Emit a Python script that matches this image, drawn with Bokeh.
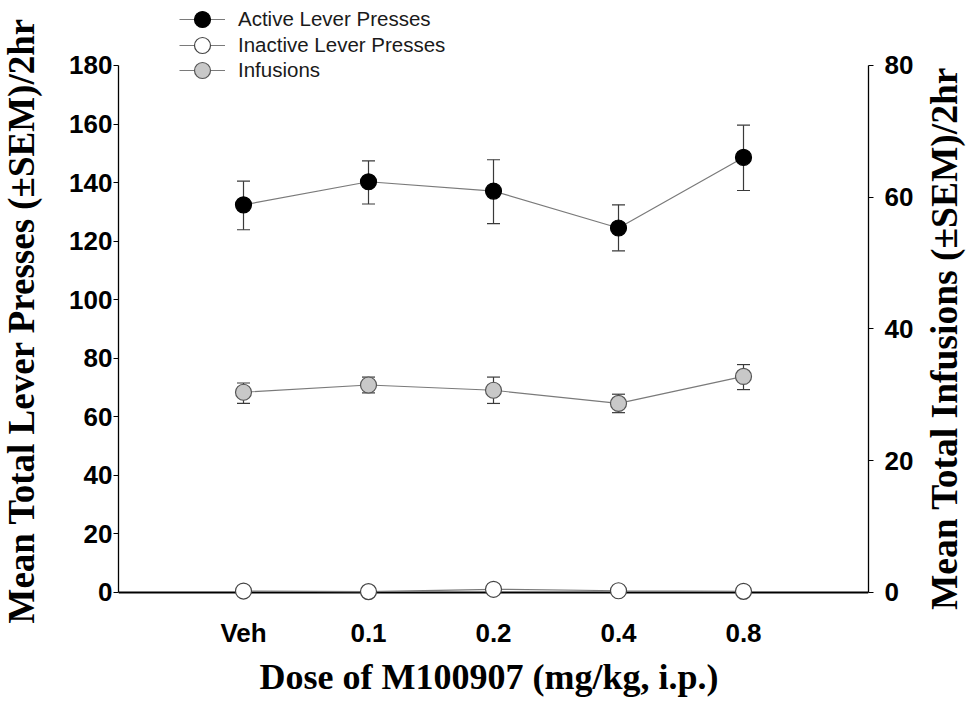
from bokeh.plotting import figure
from bokeh.layouts import row
from bokeh.models import (Range1d, FactorRange, LinearAxis, FixedTicker, Whisker, TeeHead,
                          ColumnDataSource, Legend, LegendItem, Span, Label)
from bokeh.embed import file_html
from bokeh.resources import INLINE

doses = ["Veh", "0.1", "0.2", "0.4", "0.8"]

active_mean = [132.4, 140.3, 137.1, 124.5, 148.6]
active_upper = [140.5, 147.4, 147.8, 132.4, 159.6]
active_lower = [123.9, 132.7, 126.0, 116.7, 137.3]

inactive_mean = [0.5, 0.3, 1.1, 0.6, 0.4]
inactive_upper = [0.8, 0.5, 1.5, 0.9, 0.6]
inactive_lower = [0.2, 0.1, 0.7, 0.3, 0.2]

infusion_mean = [30.4, 31.5, 30.7, 28.7, 32.8]
infusion_upper = [31.8, 32.7, 32.7, 30.1, 34.6]
infusion_lower = [28.7, 30.3, 28.7, 27.3, 30.8]

left_ticks = [0, 20, 40, 60, 80, 100, 120, 140, 160, 180]
right_ticks = [0, 20, 40, 60, 80]

x_title = "Dose of M100907  (mg/kg, i.p.)"
left_title = "Mean Total Lever Presses (\u00b1SEM)/2hr"
right_title = "Mean Total Infusions (\u00b1SEM)/2hr"

LEFT_MAX = 180
RIGHT_MAX = 80
RATIO = RIGHT_MAX / LEFT_MAX
Y_START = -12.98    # room below zero (markers on the axis, side titles)
Y_END = 202.2       # room above the axis top for the legend

H = 703
FRAME_H = 630
SERIF = "Liberation Serif"
SANS = "Liberation Sans"

def side_fig(w):
    f = figure(width=w, height=H, output_backend="svg", toolbar_location=None,
               x_range=Range1d(0, w), y_range=Range1d(0, FRAME_H),
               x_axis_type=None, y_axis_type=None,
               min_border_left=0, min_border_right=0, min_border_top=0,
               min_border_bottom=H - FRAME_H)
    f.outline_line_color = None
    f.xgrid.visible = False
    f.ygrid.visible = False
    return f

# left title panel
lf = side_fig(50)
lf.add_layout(Label(x=21, y=FRAME_H - 320, text=left_title, angle=90, angle_units="deg",
                    text_align="center", text_baseline="alphabetic",
                    text_font=SERIF, text_font_style="bold",
                    text_font_size="37px", text_color="black"))

# right title panel
rf = side_fig(48)
rf.add_layout(Label(x=24, y=FRAME_H - 338, text=right_title, angle=90, angle_units="deg",
                    text_align="center", text_baseline="alphabetic",
                    text_font=SERIF, text_font_style="bold",
                    text_font_size="37.5px", text_color="black"))

# main plot
p = figure(width=870, height=H, output_backend="svg", toolbar_location=None,
           x_range=FactorRange(factors=doses, range_padding=0.2),
           y_range=Range1d(Y_START, Y_END),
           min_border_left=68, min_border_right=52, min_border_top=0,
           min_border_bottom=H - FRAME_H)
p.extra_y_ranges = {"inf": Range1d(Y_START * RATIO, Y_END * RATIO)}
p.outline_line_color = None
p.xgrid.visible = False
p.ygrid.visible = False

xa = p.xaxis[0]
xa.axis_line_color = None
xa.major_tick_line_color = None
xa.major_tick_out = 0
xa.major_tick_in = 0
xa.minor_tick_line_color = None
xa.major_label_standoff = -13
xa.major_label_text_font = SANS
xa.major_label_text_font_style = "bold"
xa.major_label_text_font_size = "26px"
xa.major_label_text_color = "black"
xa.axis_label = x_title
xa.axis_label_text_font = SERIF
xa.axis_label_text_font_style = "bold"
xa.axis_label_text_font_size = "36px"
xa.axis_label_text_color = "black"
xa.axis_label_standoff = 6

p.add_layout(Span(location=0, dimension="width", line_color="black", line_width=2,
                  level="underlay"))

ya = p.yaxis[0]
ya.ticker = FixedTicker(ticks=left_ticks)
ya.bounds = (0, LEFT_MAX)
ya.axis_line_color = "black"
ya.axis_line_width = 1.3
ya.major_tick_out = 5
ya.major_tick_in = 0
ya.major_tick_line_color = "black"
ya.minor_tick_line_color = None
ya.major_label_standoff = 1
ya.major_label_text_font = SANS
ya.major_label_text_font_style = "bold"
ya.major_label_text_font_size = "26px"
ya.major_label_text_color = "black"

ra = LinearAxis(y_range_name="inf", ticker=FixedTicker(ticks=right_ticks), bounds=(0, RIGHT_MAX))
ra.axis_line_color = "black"
ra.axis_line_width = 1.3
ra.major_tick_out = 5
ra.major_tick_in = 0
ra.minor_tick_line_color = None
ra.major_label_standoff = 11
ra.major_label_text_font = SANS
ra.major_label_text_font_style = "bold"
ra.major_label_text_font_size = "26px"
ra.major_label_text_color = "black"
p.add_layout(ra, "right")

line_col = "#7a7a7a"
err_col = "#3a3a3a"

def series(mean, upper, lower, fill, outline, y_range_name="default"):
    src = ColumnDataSource(dict(x=doses, y=mean, upper=upper, lower=lower))
    w = Whisker(base="x", upper="upper", lower="lower", source=src, dimension="height",
                line_color=err_col, line_width=1.2, level="underlay",
                upper_head=TeeHead(size=13, line_color=err_col, line_width=1.2),
                lower_head=TeeHead(size=13, line_color=err_col, line_width=1.2),
                y_range_name=y_range_name)
    p.add_layout(w)
    lr = p.line("x", "y", source=src, line_color=line_col, line_width=1.2,
                y_range_name=y_range_name)
    sr = p.scatter("x", "y", source=src, size=16, fill_color=fill, line_color=outline,
                   line_width=1.2, y_range_name=y_range_name)
    return lr, sr

a_l, a_s = series(active_mean, active_upper, active_lower, "black", "black")
i_l, i_s = series(inactive_mean, inactive_upper, inactive_lower, "white", "#444444")
f_l, f_s = series(infusion_mean, infusion_upper, infusion_lower, "#c8c8c8", "#555555", "inf")

rows = [("Active Lever Presses", [a_l, a_s], 591),
        ("Inactive Lever Presses", [i_l, i_s], 565),
        ("Infusions", [f_l, f_s], 540)]
for label, rends, vy in rows:
    lg = Legend(items=[LegendItem(label=label, renderers=rends)], location=(61, vy),
                glyph_width=46, glyph_height=40, label_height=40, label_standoff=13,
                padding=0, margin=0, spacing=0, border_line_color=None,
                background_fill_alpha=0, label_text_font=SANS,
                label_text_font_size="20.5px", label_text_color="#1a1a1a")
    p.add_layout(lg, "center")

layout = row(lf, p, rf, spacing=0)
open("out.html", "w").write(file_html(layout, INLINE))
